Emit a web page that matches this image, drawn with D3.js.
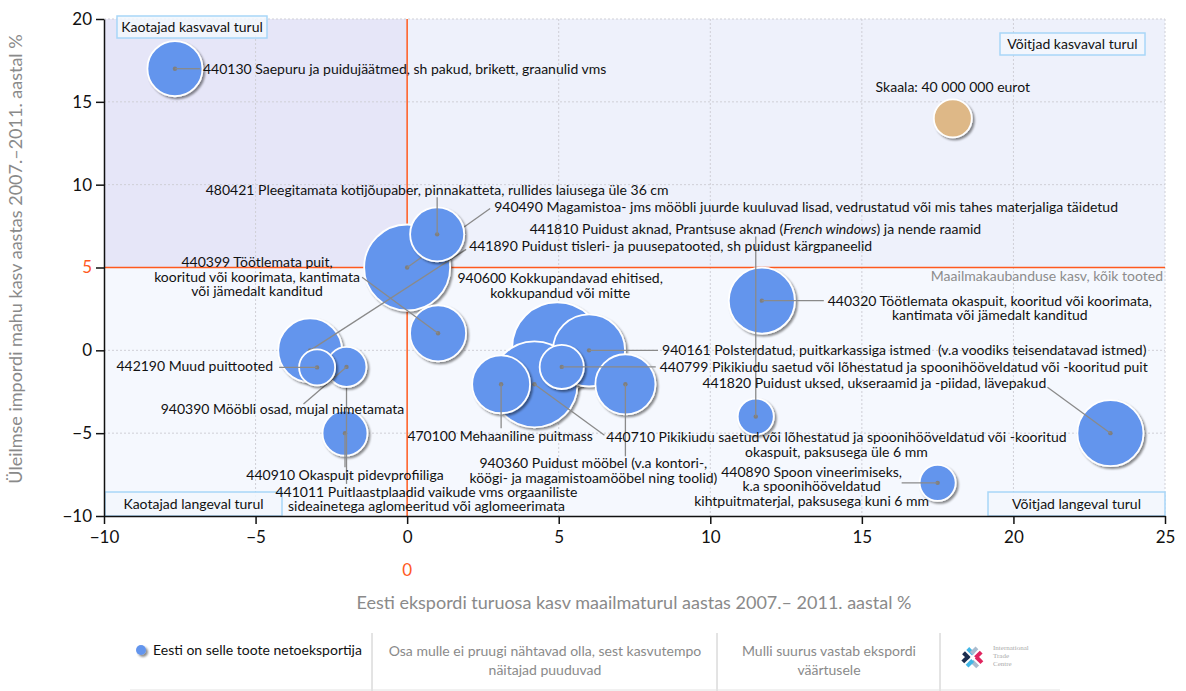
<!DOCTYPE html>
<html>
<head>
<meta charset="utf-8">
<script src="https://cdn.jsdelivr.net/npm/d3@7"></script>
<style>
  body { margin: 0; background: #fff; }
  svg { display: block; font-family: Lato, "Open Sans", sans-serif; }
  svg text { white-space: pre; }
</style>
</head>
<body>
<svg id="chart" width="1186" height="691"></svg>
<script>
// data, in drawing order (back to front)
var codes = ["940600", "940490", "440710", "940161", "440320", "441820", "441890", "940360", "470100",
             "440399", "440130", "480421", "440910", "440799", "441011", "940390", "442190", "441810", "440890"];
var names = [
  ["940600 Kokkupandavad ehitised,", "kokkupandud või mitte"],
  ["940490 Magamistoa- jms mööbli juurde kuuluvad lisad, vedrustatud või mis tahes materjaliga täidetud"],
  ["440710 Pikikiudu saetud või lõhestatud ja spoonihööveldatud või -kooritud", "okaspuit, paksusega üle 6 mm"],
  ["940161 Polsterdatud, puitkarkassiga istmed  (v.a voodiks teisendatavad istmed)"],
  ["440320 Töötlemata okaspuit, kooritud või koorimata,", "kantimata või jämedalt kanditud"],
  ["441820 Puidust uksed, ukseraamid ja -piidad, lävepakud"],
  ["441890 Puidust tisleri- ja puusepatooted, sh puidust kärgpaneelid"],
  ["940360 Puidust mööbel (v.a kontori-,", "köögi- ja magamistoamööbel ning toolid)"],
  ["470100 Mehaaniline puitmass"],
  ["440399 Töötlemata puit,", "kooritud või koorimata, kantimata", "või jämedalt kanditud"],
  ["440130 Saepuru ja puidujäätmed, sh pakud, brikett, graanulid vms"],
  ["480421 Pleegitamata kotijõupaber, pinnakatteta, rullides laiusega üle 36 cm"],
  ["440910 Okaspuit pidevprofiiliga"],
  ["440799 Pikikiudu saetud või lõhestatud ja spoonihööveldatud või -kooritud puit"],
  ["441011 Puitlaastplaadid vaikude vms orgaaniliste", "sideainetega aglomeeritud või aglomeerimata"],
  ["940390 Mööbli osad, mujal nimetamata"],
  ["442190 Muud puittooted"],
  ["441810 Puidust aknad, Prantsuse aknad (|French windows|) ja nende raamid"],
  ["440890 Spoon vineerimiseks,", "k.a spoonihööveldatud", "kihtpuitmaterjal, paksusega kuni 6 mm"]
];
// Eesti ekspordi turuosa kasv, %
var shareGrowth = [4.95, 0.0, 4.2, 6.0, 11.7, 23.2, -3.2, 7.2, 3.1, 1.02, -7.66, 0.99, -2.05, 5.1, -2.0, -2.0, -2.97, 11.5, 17.5];
// Üleilmse impordi kasv, %
var importGrowth = [0.18, 5.0, -2.05, 0.0, 3.0, -5.0, 0.0, -2.05, -2.05, 1.03, 17.0, 7.0, -5.0, -1.0, -1.0, -1.0, -1.03, -4.0, -8.0];
// ekspordi väärtus, mln eurot
var exportValue = [224, 205, 205, 144, 121, 121, 113, 100, 93, 87, 84, 81, 56, 54, 22, 44, 36, 36, 36];

var xTicks = [-10, -5, 0, 5, 10, 15, 20, 25];
var yTicks = [-10, -5, 0, 5, 10, 15, 20];
var scaleValue = 40;      // mln eurot
var scalePoint = [18.0, 14.0];
var worldGrowth = 5;

// label layout: text offset (dx, dy) from bubble centre, anchor, leader end offset
var labelLayout = [
  {dx: 3, dy: -69, a: "middle", lead: null},
  {dx: 87, dy: -60, a: "start", lead: [83, -59]},
  {dx: 302, dy: 53, a: "middle", lead: [70, 51]},
  {dx: 73, dy: 0, a: "start", lead: [69, 0]},
  {dx: 228, dy: 0, a: "middle", lead: [62, 0]},
  {dx: -408, dy: -50, a: "start", lead: [-63, -46]},
  {dx: 159, dy: -104, a: "start", lead: [156, -101]},
  {dx: -32, dy: 79, a: "middle", lead: [0, 72]},
  {dx: -1, dy: 52, a: "middle", lead: [0, 44]},
  {dx: -181, dy: -71, a: "middle", lead: [-76, -56]},
  {dx: 28, dy: 0, a: "start", lead: [25, 0]},
  {dx: 0, dy: -44, a: "middle", lead: [0, -37]},
  {dx: 0, dy: 42, a: "middle", lead: [0, 34]},
  {dx: 98, dy: 0, a: "start", lead: [94, 0]},
  {dx: 80, dy: 125, a: "middle", lead: [0, 117]},
  {dx: -64, dy: 42, a: "middle", lead: [-43, 37]},
  {dx: -44, dy: -1, a: "end", lead: [-38, 0]},
  {dx: -226, dy: -188, a: "start", lead: [0, -180]},
  {dx: -126, dy: -11, a: "middle", lead: [-36, 0]}
];

function draw() {
  var svg = d3.select("#chart");
  var left = 104, right = 1165, plotTop = 19, plotBottom = 516;
  var fs = 14, lineGap = 14.5;

  var x = d3.scaleLinear().domain([-10, 25]).range([left, right]);
  var y = d3.scaleLinear().domain([-10, 20]).range([plotBottom, plotTop]);
  var r = d3.scaleSqrt().domain([0, scaleValue]).range([0, 19]);

  var defs = svg.append("defs");
  var f = defs.append("filter").attr("id", "shadow")
    .attr("x", "-30%").attr("y", "-30%").attr("width", "170%").attr("height", "170%");
  f.append("feDropShadow").attr("dx", 2).attr("dy", 2).attr("stdDeviation", 1.3)
    .attr("flood-color", "#000").attr("flood-opacity", 0.45);

  // quadrant backgrounds
  svg.append("rect").attr("x", left).attr("y", y(worldGrowth)).attr("width", right - left)
    .attr("height", plotBottom - y(worldGrowth)).attr("fill", "#f5f8fe");
  svg.append("rect").attr("x", x(0)).attr("y", plotTop).attr("width", right - x(0))
    .attr("height", y(worldGrowth) - plotTop).attr("fill", "#eef1fb");
  svg.append("rect").attr("x", left).attr("y", plotTop).attr("width", x(0) - left)
    .attr("height", y(worldGrowth) - plotTop).attr("fill", "#e6e6f8");

  // grid
  var grid = svg.append("g").attr("stroke", "#cfcfd6").attr("stroke-dasharray", "2,2").attr("stroke-width", 1);
  xTicks.filter(function(d) { return d !== -10 && d !== 0; }).forEach(function(d) {
    grid.append("line").attr("x1", x(d)).attr("x2", x(d)).attr("y1", plotTop).attr("y2", plotBottom);
  });
  yTicks.filter(function(d) { return d !== -10 && d !== worldGrowth; }).forEach(function(d) {
    grid.append("line").attr("x1", left).attr("x2", right).attr("y1", y(d)).attr("y2", y(d));
  });

  // orange reference lines
  svg.append("line").attr("x1", x(0)).attr("x2", x(0)).attr("y1", plotTop).attr("y2", plotBottom)
    .attr("stroke", "#ff5a1e").attr("stroke-width", 1.5);
  svg.append("line").attr("x1", left).attr("x2", right).attr("y1", y(worldGrowth)).attr("y2", y(worldGrowth))
    .attr("stroke", "#ff5a1e").attr("stroke-width", 1.5);

  svg.append("text").attr("x", right - 2).attr("y", y(worldGrowth) + 13).attr("text-anchor", "end")
    .attr("font-size", fs).attr("fill", "#8c8c8c").text("Maailmakaubanduse kasv, kõik tooted");

  // quadrant boxes
  function quadBox(x0, y0, w, h, label) {
    svg.append("rect").attr("x", x0).attr("y", y0).attr("width", w).attr("height", h)
      .attr("fill", "#f2f7fd").attr("fill-opacity", 0.85).attr("stroke", "#a8d6f8").attr("stroke-width", 1.5);
    svg.append("text").attr("x", x0 + w / 2).attr("y", y0 + h / 2).attr("dy", "0.35em")
      .attr("text-anchor", "middle").attr("font-size", fs).attr("fill", "#111").text(label);
  }
  quadBox(117, 16, 150, 22, "Kaotajad kasvaval turul");
  quadBox(1000, 33, 145, 22, "Võitjad kasvaval turul");
  quadBox(105, 492, 177, 24, "Kaotajad langeval turul");
  quadBox(988, 492, 177, 24, "Võitjad langeval turul");

  // axes
  var xAxis = svg.append("g").attr("transform", "translate(0," + plotBottom + ")")
    .call(d3.axisBottom(x).tickValues(xTicks).tickSize(8).tickSizeOuter(0).tickFormat(d3.format("")));
  var yAxis = svg.append("g").attr("transform", "translate(" + left + ",0)")
    .call(d3.axisLeft(y).tickValues(yTicks).tickSize(8).tickSizeOuter(0).tickFormat(d3.format("")));
  [xAxis, yAxis].forEach(function(a) {
    a.select(".domain").attr("stroke", "#111").attr("stroke-width", 1.5);
    a.selectAll(".tick line").attr("stroke", "#111").attr("stroke-width", 1.5);
    a.selectAll(".tick text").attr("font-size", 17).attr("fill", "#111")
      .attr("font-family", "Lato, sans-serif");
  });
  xAxis.selectAll(".tick text").attr("dy", "0.95em");
  yAxis.selectAll(".tick text").attr("x", -12)
    .attr("fill", function(d) { return d === worldGrowth ? "#ff5a1e" : "#111"; });

  svg.append("text").attr("x", x(0)).attr("y", 576).attr("text-anchor", "middle")
    .attr("font-size", 17).attr("fill", "#ff5a1e").text("0");

  svg.append("text").attr("x", 634).attr("y", 609).attr("text-anchor", "middle")
    .attr("font-size", 18).attr("fill", "#8a8a8a")
    .text("Eesti ekspordi turuosa kasv maailmaturul aastas 2007.– 2011. aastal %");
  svg.append("text").attr("transform", "translate(22,259) rotate(-90)").attr("text-anchor", "middle")
    .attr("font-size", 18).attr("fill", "#8a8a8a")
    .text("Üleilmse impordi mahu kasv aastas 2007.–2011. aastal %");

  // bubbles
  var bubbles = svg.append("g");
  codes.forEach(function(code, i) {
    var cx = x(shareGrowth[i]), cy = y(importGrowth[i]);
    var L = labelLayout[i];
    bubbles.append("circle").attr("cx", cx).attr("cy", cy).attr("r", r(exportValue[i]))
      .attr("fill", "#6495ed").attr("stroke", "#fff").attr("stroke-width", 1.8)
      .attr("filter", "url(#shadow)");
    bubbles.append("circle").attr("cx", cx).attr("cy", cy).attr("r", 2.2).attr("fill", "#7f7f7f");
    if (L.lead) {
      bubbles.append("line").attr("x1", cx).attr("y1", cy)
        .attr("x2", cx + L.lead[0]).attr("y2", cy + L.lead[1])
        .attr("stroke", "#8a8a8a").attr("stroke-width", 1.3);
    }
  });

  // labels on top, one text per label, one tspan per line
  var labels = svg.append("g").attr("font-size", fs).attr("fill", "#111");
  codes.forEach(function(code, i) {
    var cx = x(shareGrowth[i]), cy = y(importGrowth[i]);
    var L = labelLayout[i];
    var t = labels.append("text").attr("x", cx + L.dx).attr("y", cy + L.dy)
      .attr("dy", "0.35em").attr("text-anchor", L.a);
    names[i].forEach(function(line, j) {
      var ln = t.append("tspan").attr("x", cx + L.dx).attr("y", cy + L.dy + j * lineGap)
        .attr("dy", "0.35em");
      line.split("|").forEach(function(part, k) {
        ln.append("tspan").attr("font-style", k % 2 ? "italic" : "normal").text(part);
      });
    });
  });

  // scale bubble
  svg.append("circle").attr("cx", x(scalePoint[0])).attr("cy", y(scalePoint[1])).attr("r", r(scaleValue))
    .attr("fill", "#deb887").attr("stroke", "#fff").attr("stroke-width", 1.8).attr("filter", "url(#shadow)");
  svg.append("text").attr("x", x(scalePoint[0])).attr("y", y(scalePoint[1]) - 31).attr("dy", "0.35em")
    .attr("text-anchor", "middle").attr("font-size", fs).attr("fill", "#111")
    .text("Skaala: " + d3.format(",")(scaleValue * 1e6).replace(/,/g, " ") + " eurot");

  // legend
  var leg = svg.append("g");
  leg.append("circle").attr("cx", 141).attr("cy", 650).attr("r", 5).attr("fill", "#6495ed")
    .attr("filter", "url(#shadow)");
  leg.append("text").attr("x", 153).attr("y", 650).attr("dy", "0.35em").attr("font-size", fs)
    .attr("fill", "#111").text("Eesti on selle toote netoeksportija");
  [372, 717, 940].forEach(function(sx) {
    leg.append("line").attr("x1", sx).attr("x2", sx).attr("y1", 633).attr("y2", 691)
      .attr("stroke", "#c8c8c8").attr("stroke-width", 1);
  });
  leg.append("line").attr("x1", 130).attr("x2", 1060).attr("y1", 690).attr("y2", 690)
    .attr("stroke", "#e2e2e2");
  [["Osa mulle ei pruugi nähtavad olla, sest kasvutempo", "näitajad puuduvad", 545],
   ["Mulli suurus vastab ekspordi", "väärtusele", 829]].forEach(function(n) {
    var t = leg.append("text").attr("text-anchor", "middle").attr("font-size", fs).attr("fill", "#8a8a8a");
    t.append("tspan").attr("x", n[2]).attr("y", 651).attr("dy", "0.35em").text(n[0]);
    t.append("tspan").attr("x", n[2]).attr("y", 670).attr("dy", "0.35em").text(n[1]);
  });

  // ITC logo
  var logo = leg.append("g").attr("transform", "translate(972,657) rotate(45)");
  [[-9, -3, "#41b6e6"], [3, -3, "#e0245e"], [-9, 3, "#1b2d4f"], [3, 3, "#a9bccf"]].forEach(function(b) {
    logo.append("rect").attr("x", b[0]).attr("y", b[1] - 2).attr("width", 8).attr("height", 4).attr("fill", b[2]);
  });
  [[-3, -10, "#a9bccf"], [-3, 2, "#1b2d4f"], [2, -10, "#e0245e"], [2, 2, "#41b6e6"]].forEach(function(b) {
    logo.append("rect").attr("x", b[0] - 2 + (b[0] > 0 ? 1 : 0)).attr("y", b[1]).attr("width", 4).attr("height", 8).attr("fill", b[2]);
  });
  var itc = leg.append("text").attr("font-size", 7)
    .attr("font-family", "Liberation Serif, serif").attr("fill", "#aaa");
  ["International", "Trade", "Centre"].forEach(function(t, i) {
    itc.append("tspan").attr("x", 993).attr("y", 650 + i * 8).text(t);
  });
}

window.addEventListener("load", function() {
  draw();
});
</script>
</body>
</html>
